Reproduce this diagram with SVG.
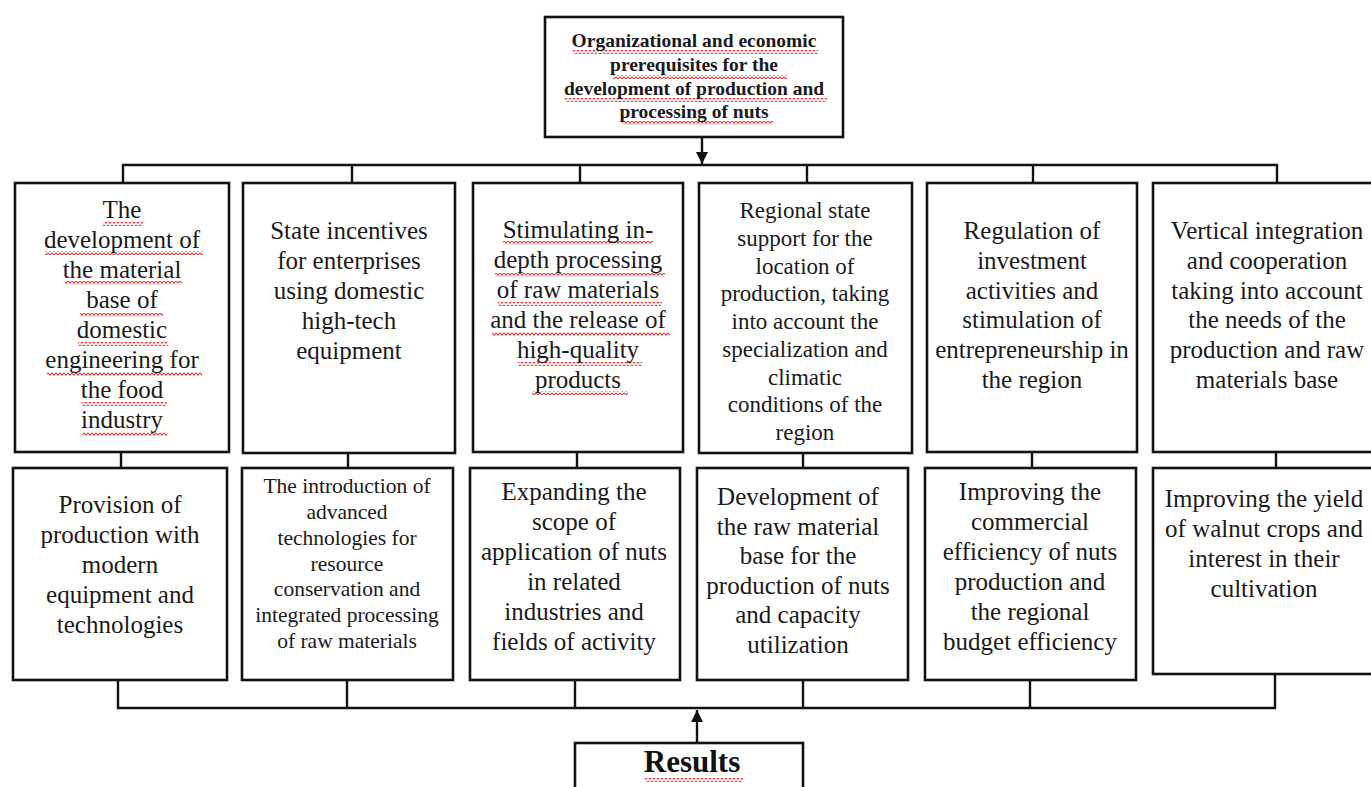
<svg xmlns="http://www.w3.org/2000/svg" width="1371" height="787" viewBox="0 0 1371 787">
<defs>
<style>
.box{fill:#fff;stroke:#111;stroke-width:2.6}
.ln{fill:none;stroke:#111;stroke-width:2.4}
.t{font-family:'Liberation Serif','Times New Roman',serif;font-size:25px;fill:#1a1a1a;text-anchor:middle}
.s23{font-size:23px}
.s21{font-size:21.5px}
.hd{font-family:'Liberation Serif','Times New Roman',serif;font-weight:bold;font-size:19.5px;fill:#1a1a1a;text-anchor:middle}
.res{font-family:'Liberation Serif','Times New Roman',serif;font-weight:bold;font-size:31px;fill:#111;text-anchor:middle}
.sq{fill:url(#wv)}
</style>
<pattern id="wv" width="4" height="4" patternUnits="userSpaceOnUse">
<path d="M0,0.8 L2,3.2 L4,0.8" fill="none" stroke="#e04848" stroke-width="1.1"/>
</pattern>
<marker id="arr" viewBox="0 0 10 10" refX="10" refY="5" markerWidth="5" markerHeight="5" orient="auto" markerUnits="strokeWidth">
<path d="M0,0 L10,5 L0,10 z" fill="#111"/>
</marker>
</defs>
<rect width="1371" height="787" fill="#fff"/>

<g id="connectors">
<line class="ln" x1="702" y1="137" x2="702" y2="164" marker-end="url(#arr)"/>
<polyline class="ln" points="123,183 123,165 1277,165 1277,183"/>
<line class="ln" x1="352" y1="165" x2="352" y2="183"/>
<line class="ln" x1="580" y1="165" x2="580" y2="183"/>
<line class="ln" x1="807" y1="165" x2="807" y2="183"/>
<line class="ln" x1="1033" y1="165" x2="1033" y2="183"/>
<line class="ln" x1="121" y1="452" x2="121" y2="468"/>
<line class="ln" x1="348" y1="453" x2="348" y2="468"/>
<line class="ln" x1="577" y1="452" x2="577" y2="468"/>
<line class="ln" x1="803" y1="453" x2="803" y2="468"/>
<line class="ln" x1="1032" y1="452" x2="1032" y2="468"/>
<line class="ln" x1="1276" y1="452" x2="1276" y2="468"/>
<polyline class="ln" points="118,680 118,708 1275,708 1275,674"/>
<line class="ln" x1="347" y1="680" x2="347" y2="708"/>
<line class="ln" x1="575" y1="680" x2="575" y2="708"/>
<line class="ln" x1="803" y1="680" x2="803" y2="708"/>
<line class="ln" x1="1030" y1="680" x2="1030" y2="708"/>
<line class="ln" x1="697" y1="743" x2="697" y2="710" marker-end="url(#arr)"/>
</g>

<g id="top">
<rect class="box" x="545" y="17" width="298" height="120"/>
<rect class="sq" x="573" y="50" width="245" height="4"/>
<rect class="sq" x="613" y="75" width="174" height="4"/>
<rect class="sq" x="565" y="98" width="262" height="4"/>
<rect class="sq" x="622" y="121" width="151" height="4"/>
<text class="hd"><tspan x="694" y="47">Organizational and economic</tspan><tspan x="694" y="71">prerequisites for the</tspan><tspan x="694" y="95">development of production and</tspan><tspan x="694" y="118">processing of nuts</tspan></text>
</g>

<g id="f1">
<rect class="box" x="15" y="183" width="214" height="269"/>
<rect class="sq" x="103" y="222" width="40" height="4"/>
<rect class="sq" x="45" y="251" width="158" height="4"/>
<rect class="sq" x="65" y="281" width="117" height="4"/>
<rect class="sq" x="80" y="313" width="83" height="4"/>
<rect class="sq" x="78" y="342" width="90" height="4"/>
<rect class="sq" x="47" y="372" width="155" height="4"/>
<rect class="sq" x="82" y="402" width="85" height="4"/>
<rect class="sq" x="82" y="432" width="85" height="4"/>
<text class="t"><tspan x="122" y="218">The</tspan><tspan x="122" y="248">development of</tspan><tspan x="122" y="278">the material</tspan><tspan x="122" y="308">base of</tspan><tspan x="122" y="338">domestic</tspan><tspan x="122" y="368">engineering for</tspan><tspan x="122" y="398">the food</tspan><tspan x="122" y="428">industry</tspan></text>
</g>

<g id="f2">
<rect class="box" x="243" y="183" width="212" height="270"/>
<text class="t"><tspan x="349" y="239">State incentives</tspan><tspan x="349" y="269">for enterprises</tspan><tspan x="349" y="299">using domestic</tspan><tspan x="349" y="329">high-tech</tspan><tspan x="349" y="359">equipment</tspan></text>
</g>

<g id="f3">
<rect class="box" x="473" y="183" width="210" height="269"/>
<rect class="sq" x="503" y="241" width="150" height="4"/>
<rect class="sq" x="495" y="273" width="170" height="4"/>
<rect class="sq" x="498" y="302" width="164" height="4"/>
<rect class="sq" x="492" y="332" width="178" height="4"/>
<rect class="sq" x="518" y="362" width="124" height="4"/>
<rect class="sq" x="532" y="391" width="96" height="4"/>
<text class="t"><tspan x="578" y="238">Stimulating in-</tspan><tspan x="578" y="268">depth processing</tspan><tspan x="578" y="298">of raw materials</tspan><tspan x="578" y="328">and the release of</tspan><tspan x="578" y="358">high-quality</tspan><tspan x="578" y="388">products</tspan></text>
</g>

<g id="f4">
<rect class="box" x="699" y="183" width="213" height="270"/>
<text class="t s23"><tspan x="805" y="218">Regional state</tspan><tspan x="805" y="246">support for the</tspan><tspan x="805" y="274">location of</tspan><tspan x="805" y="301">production, taking</tspan><tspan x="805" y="329">into account the</tspan><tspan x="805" y="357">specialization and</tspan><tspan x="805" y="385">climatic</tspan><tspan x="805" y="412">conditions of the</tspan><tspan x="805" y="440">region</tspan></text>
</g>

<g id="f5">
<rect class="box" x="927" y="183" width="210" height="269"/>
<text class="t"><tspan x="1032" y="239">Regulation of</tspan><tspan x="1032" y="269">investment</tspan><tspan x="1032" y="299">activities and</tspan><tspan x="1032" y="328">stimulation of</tspan><tspan x="1032" y="358">entrepreneurship in</tspan><tspan x="1032" y="388">the region</tspan></text>
</g>

<g id="f6">
<rect class="box" x="1153" y="183" width="230" height="269"/>
<text class="t"><tspan x="1267" y="239">Vertical integration</tspan><tspan x="1267" y="269">and cooperation</tspan><tspan x="1267" y="299">taking into account</tspan><tspan x="1267" y="328">the needs of the</tspan><tspan x="1267" y="358">production and raw</tspan><tspan x="1267" y="388">materials base</tspan></text>
</g>

<g id="r1">
<rect class="box" x="13" y="468" width="214" height="212"/>
<text class="t"><tspan x="120" y="513">Provision of</tspan><tspan x="120" y="543">production with</tspan><tspan x="120" y="573">modern</tspan><tspan x="120" y="603">equipment and</tspan><tspan x="120" y="633">technologies</tspan></text>
</g>

<g id="r2">
<rect class="box" x="242" y="468" width="211" height="212"/>
<text class="t s21"><tspan x="347" y="493">The introduction of</tspan><tspan x="347" y="519">advanced</tspan><tspan x="347" y="545">technologies for</tspan><tspan x="347" y="571">resource</tspan><tspan x="347" y="596">conservation and</tspan><tspan x="347" y="622">integrated processing</tspan><tspan x="347" y="648">of raw materials</tspan></text>
</g>

<g id="r3">
<rect class="box" x="470" y="468" width="210" height="212"/>
<text class="t"><tspan x="574" y="500">Expanding the</tspan><tspan x="574" y="530">scope of</tspan><tspan x="574" y="560">application of nuts</tspan><tspan x="574" y="590">in related</tspan><tspan x="574" y="620">industries and</tspan><tspan x="574" y="650">fields of activity</tspan></text>
</g>

<g id="r4">
<rect class="box" x="697" y="468" width="211" height="212"/>
<text class="t"><tspan x="798" y="505">Development of</tspan><tspan x="798" y="535">the raw material</tspan><tspan x="798" y="564">base for the</tspan><tspan x="798" y="594">production of nuts</tspan><tspan x="798" y="623">and capacity</tspan><tspan x="798" y="653">utilization</tspan></text>
</g>

<g id="r5">
<rect class="box" x="925" y="468" width="211" height="212"/>
<text class="t"><tspan x="1030" y="500">Improving the</tspan><tspan x="1030" y="530">commercial</tspan><tspan x="1030" y="560">efficiency of nuts</tspan><tspan x="1030" y="590">production and</tspan><tspan x="1030" y="620">the regional</tspan><tspan x="1030" y="650">budget efficiency</tspan></text>
</g>

<g id="r6">
<rect class="box" x="1153" y="468" width="230" height="206"/>
<text class="t"><tspan x="1264" y="507">Improving the yield</tspan><tspan x="1264" y="537">of walnut crops and</tspan><tspan x="1264" y="567">interest in their</tspan><tspan x="1264" y="597">cultivation</tspan></text>
</g>

<g id="results">
<rect class="box" x="575" y="743" width="228" height="60"/>
<rect class="sq" x="645" y="778" width="98" height="4"/>
<text class="res"><tspan x="692" y="772">Results</tspan></text>
</g>
</svg>
